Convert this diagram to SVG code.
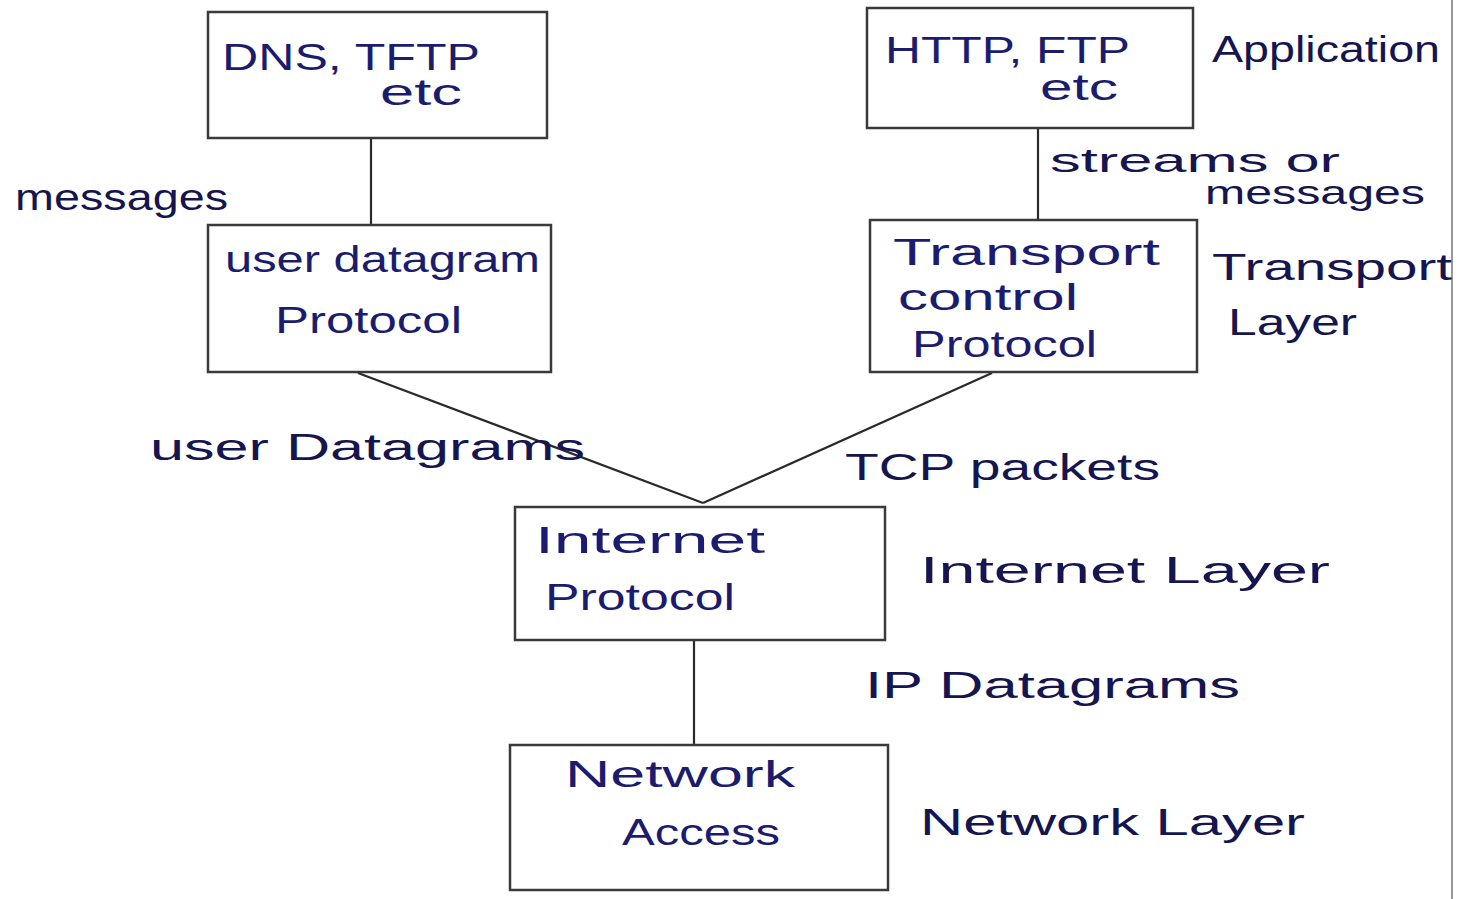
<svg xmlns="http://www.w3.org/2000/svg" width="1462" height="899" viewBox="0 0 1462 899">
<style>
.box{fill:none;stroke:#3a3a3a;stroke-width:2.5}
.ln{stroke:#2a2a2a;stroke-width:2.2;fill:none}
text{font-family:"Liberation Sans","DejaVu Sans",sans-serif;font-size:36px;fill:#1c1c6e}
.lbl{fill:#15154f}
.sm{font-size:33px}
</style>
<rect width="1462" height="899" fill="#ffffff"/>
<line x1="1452" y1="0" x2="1452" y2="899" stroke="#777" stroke-width="1.5"/>
<g id="connectors">
<line class="ln" x1="371" y1="139" x2="371" y2="225"/>
<line class="ln" x1="1038" y1="129" x2="1038" y2="220"/>
<line class="ln" x1="358" y1="373" x2="703" y2="503"/>
<line class="ln" x1="992" y1="373" x2="703" y2="503"/>
<line class="ln" x1="694" y1="641" x2="694" y2="745"/>
</g>
<g id="dns">
<rect class="box" x="208" y="12" width="339" height="126"/>
<text x="222" y="70" textLength="258" lengthAdjust="spacingAndGlyphs">DNS, TFTP</text>
<text x="380" y="105" textLength="82" lengthAdjust="spacingAndGlyphs">etc</text>
</g>
<g id="http">
<rect class="box" x="867" y="8" width="326" height="120"/>
<text x="885" y="63" textLength="245" lengthAdjust="spacingAndGlyphs">HTTP, FTP</text>
<text x="1040" y="100" textLength="78" lengthAdjust="spacingAndGlyphs">etc</text>
</g>
<g id="udp">
<rect class="box" x="208" y="225" width="343" height="147"/>
<text x="225" y="272" textLength="315" lengthAdjust="spacingAndGlyphs">user datagram</text>
<text x="275" y="333" textLength="187" lengthAdjust="spacingAndGlyphs">Protocol</text>
</g>
<g id="tcp">
<rect class="box" x="870" y="220" width="327" height="152"/>
<text x="893" y="265" textLength="267" lengthAdjust="spacingAndGlyphs">Transport</text>
<text x="898" y="310" textLength="180" lengthAdjust="spacingAndGlyphs">control</text>
<text x="912" y="357" textLength="185" lengthAdjust="spacingAndGlyphs">Protocol</text>
</g>
<g id="ip">
<rect class="box" x="515" y="507" width="370" height="133"/>
<text x="535" y="553" textLength="230" lengthAdjust="spacingAndGlyphs">Internet</text>
<text x="545" y="610" textLength="190" lengthAdjust="spacingAndGlyphs">Protocol</text>
</g>
<g id="net">
<rect class="box" x="510" y="745" width="378" height="145"/>
<text x="565" y="787" textLength="230" lengthAdjust="spacingAndGlyphs">Network</text>
<text x="622" y="845" textLength="158" lengthAdjust="spacingAndGlyphs">Access</text>
</g>
<g id="labels">
<text class="lbl" x="1212" y="62" textLength="228" lengthAdjust="spacingAndGlyphs">Application</text>
<text class="lbl" x="15" y="210" textLength="213" lengthAdjust="spacingAndGlyphs">messages</text>
<text class="lbl sm" x="1050" y="172" textLength="290" lengthAdjust="spacingAndGlyphs">streams or</text>
<text class="lbl sm" x="1205" y="204" textLength="220" lengthAdjust="spacingAndGlyphs">messages</text>
<text class="lbl" x="1212" y="280" textLength="240" lengthAdjust="spacingAndGlyphs">Transport</text>
<text class="lbl" x="1228" y="335" textLength="129" lengthAdjust="spacingAndGlyphs">Layer</text>
<text class="lbl" x="150" y="460" textLength="435" lengthAdjust="spacingAndGlyphs">user Datagrams</text>
<text class="lbl" x="845" y="480" textLength="315" lengthAdjust="spacingAndGlyphs">TCP packets</text>
<text class="lbl" x="920" y="583" textLength="410" lengthAdjust="spacingAndGlyphs">Internet Layer</text>
<text class="lbl" x="865" y="698" textLength="375" lengthAdjust="spacingAndGlyphs">IP Datagrams</text>
<text class="lbl" x="920" y="835" textLength="385" lengthAdjust="spacingAndGlyphs">Network Layer</text>
</g>
</svg>
